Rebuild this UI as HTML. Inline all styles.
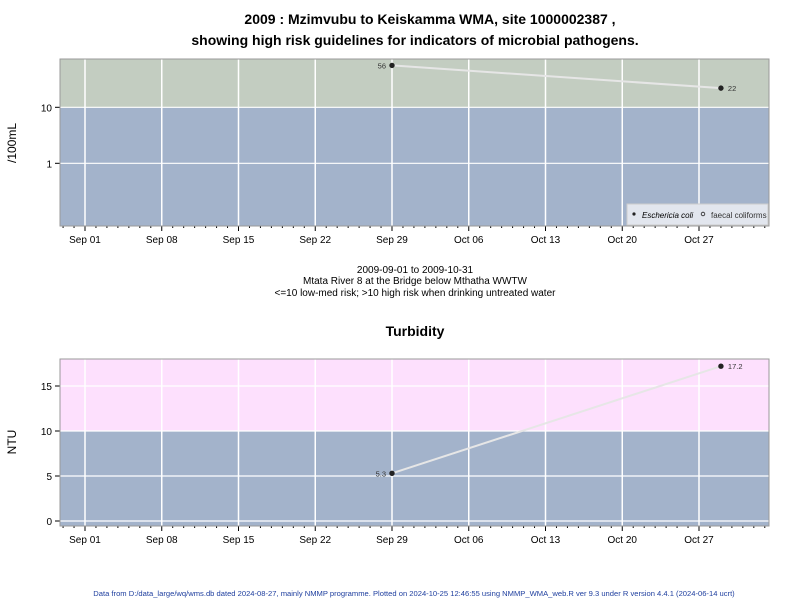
<!DOCTYPE html>
<html><head><meta charset="utf-8"><style>
body{margin:0;background:#fff;width:800px;height:600px;overflow:hidden;font-family:"Liberation Sans",Arial,sans-serif}
</style></head><body>
<svg id="c" width="800" height="600" xmlns="http://www.w3.org/2000/svg" font-family="Liberation Sans, Arial, sans-serif">
<text x="430" y="24" text-anchor="middle" font-size="14" font-weight="bold">2009 : Mzimvubu to Keiskamma WMA, site 1000002387 ,</text>
<text x="415" y="45" text-anchor="middle" font-size="14" font-weight="bold">showing high risk guidelines for indicators of microbial pathogens.</text>
<text x="415" y="273" text-anchor="middle" font-size="10">2009-09-01 to 2009-10-31</text>
<text x="415" y="284" text-anchor="middle" font-size="10">Mtata River 8 at the Bridge below Mthatha WWTW</text>
<text x="415" y="296" text-anchor="middle" font-size="10">&lt;=10 low-med risk; &gt;10 high risk when drinking untreated water</text>
<text x="415" y="336" text-anchor="middle" font-size="14" font-weight="bold">Turbidity</text>
<text x="414" y="596" text-anchor="middle" font-size="7.6" fill="#1f3f9f">Data from D:/data_large/wq/wms.db dated 2024-08-27, mainly NMMP programme. Plotted on 2024-10-25 12:46:55 using NMMP_WMA_web.R ver 9.3 under R version 4.4.1 (2024-06-14 ucrt)</text>
<text transform="translate(16,143) rotate(-90)" text-anchor="middle" font-size="12">/100mL</text>
<text transform="translate(16,442) rotate(-90)" text-anchor="middle" font-size="12">NTU</text>
</svg>
<script>
const xTickLabels=["Sep 01","Sep 08","Sep 15","Sep 22","Sep 29","Oct 06","Oct 13","Oct 20","Oct 27"];
const ecoliDays=[28,58];
const ecoliValues=[56,22];
const turbDays=[28,58];
const turbValues=[5.3,17.2];
const logTicks=[1,10];
const turbTicks=[0,5,10,15];
const NS="http://www.w3.org/2000/svg";
const svg=document.getElementById('c');
const X0=60,X1=769;
const xs=d=>85+d*(307/28);
function mk(t,a,p){const e=document.createElementNS(NS,t);for(const k in a)e.setAttribute(k,a[k]);(p||svg).appendChild(e);return e;}
function panel(top,bot,ys,thr,hiCol,ticks,days,vals,fmt,name){
  const g=mk('g',{});
  
  
  const yt=ys(thr);
  let r=mk('rect',{x:X0,y:top,width:X1-X0,height:yt-top,fill:hiCol},g);
  
  r=mk('rect',{x:X0,y:yt,width:X1-X0,height:bot-yt,fill:'#a3b3cb'},g);
  
  xTickLabels.forEach((l,i)=>{const x=xs(i*7);
    mk('line',{x1:x,x2:x,y1:top,y2:bot,stroke:'#fff','stroke-width':1.5},g);
    mk('line',{x1:x,x2:x,y1:bot,y2:bot+5,stroke:'#000'},g);
    const t=mk('text',{x:x,y:bot+17,'text-anchor':'middle','font-size':10},g);t.textContent=l;
    });
  for(let d=-2;d<=62;d++){if(d%7==0)continue;const x=xs(d);if(x<X0||x>X1)continue;
    mk('line',{x1:x,x2:x,y1:bot,y2:bot+2,stroke:'#000'},g);}
  ticks.forEach(v=>{const y=ys(v);
    mk('line',{x1:X0,x2:X1,y1:y,y2:y,stroke:'#fff','stroke-width':1.2},g);
    mk('line',{x1:X0-5,x2:X0,y1:y,y2:y,stroke:'#000'},g);
    const t=mk('text',{x:X0-8,y:y+4,'text-anchor':'end','font-size':10},g);t.textContent=v;
    });
  mk('rect',{x:X0,y:top,width:X1-X0,height:bot-top,fill:'none',stroke:'#999'},g);
  const pts=days.map((d,i)=>xs(d)+','+ys(vals[i])).join(' ');
  const pl=mk('polyline',{points:pts,fill:'none',stroke:'#e6e6e6','stroke-width':2},g);
  
  days.forEach((d,i)=>{const x=xs(d),y=ys(vals[i]);
    const c=mk('circle',{cx:x,cy:y,r:2.7,fill:'#222'},g);
    
    const left=i==0;
    const t=mk('text',{x:left?x-6:x+7,y:y+3,'text-anchor':left?'end':'start','font-size':7.5,fill:'#333'},g);
    t.textContent=fmt(vals[i]);
    });
  return g;
}
panel(59,226,v=>163.3-56*Math.log10(v),10,'#c3cdc1',logTicks,ecoliDays,ecoliValues,v=>String(v),'ecoli');
panel(359,526,v=>521-9*v,10,'#fde0fd',turbTicks,turbDays,turbValues,v=>String(v),'turbidity');
const lg=mk('g',{});


mk('rect',{x:627,y:204,width:141,height:21,fill:'#e2e6ee',stroke:'#ccc'},lg);
mk('circle',{cx:634,cy:214,r:1.6,fill:'#222'},lg);
let t=mk('text',{x:642,y:218,'font-size':8,'font-style':'italic'},lg);t.textContent='Eschericia coli';

mk('circle',{cx:703,cy:214,r:1.8,fill:'none',stroke:'#222','stroke-width':0.8},lg);
t=mk('text',{x:711,y:218,'font-size':8,fill:'#333'},lg);t.textContent='faecal coliforms';

</script>
</body></html>
